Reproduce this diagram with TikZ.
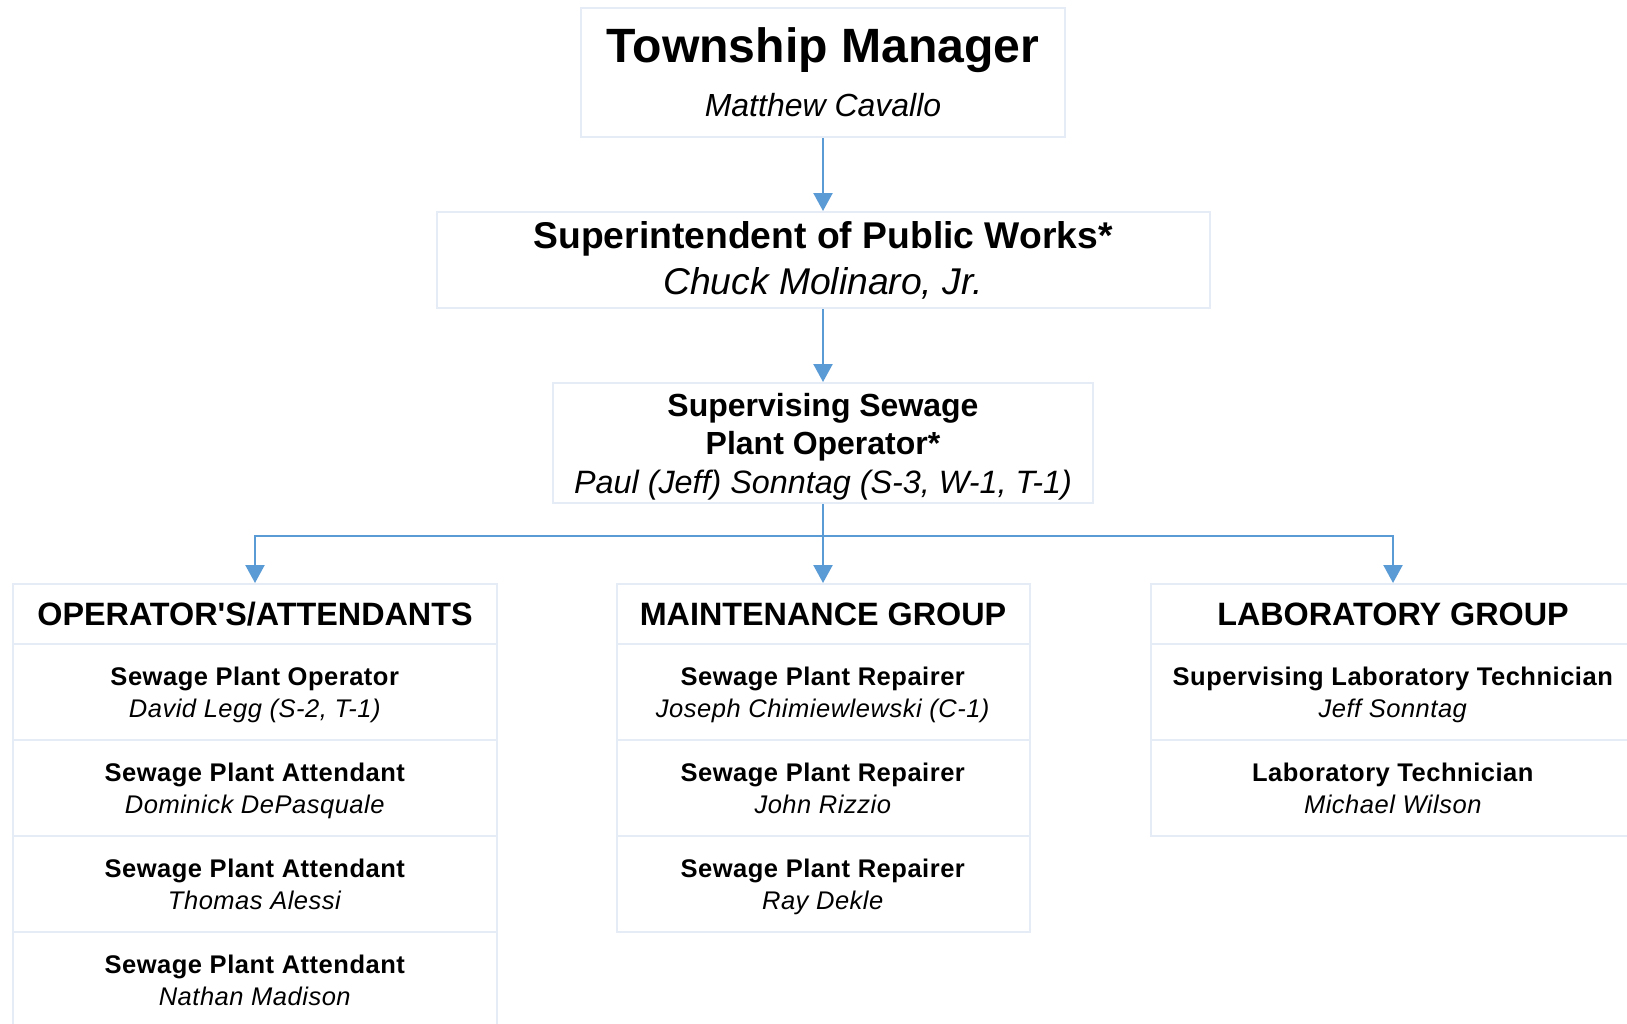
\documentclass[tikz,border=0pt]{standalone}
\usepackage{fontspec}
\setmainfont{Liberation Sans}
\usetikzlibrary{arrows.meta}

\definecolor{boxline}{HTML}{E6ECF6}
\definecolor{linkblue}{HTML}{5B9BD5}

\begin{document}
\begin{tikzpicture}[x=0.1mm, y=-0.1mm,
    box/.style={draw=boxline, line width=0.57pt, inner sep=0pt, align=center},
    topbox/.style={box, minimum width=48.4mm, minimum height=12.9mm, font=\fontsize{9.1}{15.3}\selectfont},
    supbox/.style={box, minimum width=77.3mm, minimum height=9.6mm, font=\fontsize{10.6}{13.1}\selectfont},
    sspobox/.style={box, minimum width=54mm, minimum height=12mm, text depth=0pt, font=\fontsize{9.1}{10.95}\selectfont},
    headbox/.style={box, minimum height=6mm, text depth=0pt, font=\fontsize{9.2}{11}\selectfont\bfseries},
    rowbox/.style={box, minimum height=9.6mm, text depth=0pt, font=\fontsize{7.26}{9.1}\selectfont\addfontfeature{LetterSpace=2}},
    link/.style={draw=linkblue, line width=0.65pt},
    arrow/.style={link, -{Triangle[width=1.9mm, length=1.8mm]}}]

\useasboundingbox (0,0) rectangle (1627,1023);

%%%%%%%%%%%%%%%%%%%%%% TOP OF THE CHART %%%%%%%%%%%%%%%%%%%%%%

% Manager
\node[topbox] (tm) at (823,72.5) {{\fontsize{13.7}{15.3}\selectfont\bfseries Township Manager}\\ \itshape Matthew Cavallo};

% Superintendent
\node[supbox] (sup) at (823,260) {\textbf{Superintendent of Public Works*}\\ \textit{Chuck Molinaro, Jr.}};

% Supervising operator
\node[sspobox] (sspo) at (823,443) {\textbf{Supervising Sewage}\\ \textbf{Plant Operator*}\\ {\fontsize{9.2}{10.95}\selectfont\itshape Paul (Jeff) Sonntag (S-3, W-1, T-1)}};

\coordinate (bus) at (823,536);

%%%%%%%%%%%%%%%%%%%%%% GROUPS %%%%%%%%%%%%%%%%%%%%%%

% Operators and attendants
\node[headbox, minimum width=48.4mm] (opH) at (255,614) {OPERATOR\textquotesingle S/ATTENDANTS};
\node[rowbox, minimum width=48.4mm] (op1) at (255,692) {\textbf{Sewage Plant Operator}\\ \textit{David Legg (S-2, T-1)}};
\node[rowbox, minimum width=48.4mm] (op2) at (255,788) {\textbf{Sewage Plant Attendant}\\ \textit{Dominick DePasquale}};
\node[rowbox, minimum width=48.4mm] (op3) at (255,884) {\textbf{Sewage Plant Attendant}\\ \textit{Thomas Alessi}};
\node[rowbox, minimum width=48.4mm] (op4) at (255,980) {\textbf{Sewage Plant Attendant}\\ \textit{Nathan Madison}};

% Maintenance
\node[headbox, minimum width=41.3mm] (mtH) at (823,614) {MAINTENANCE GROUP};
\node[rowbox, minimum width=41.3mm] (mt1) at (823,692) {\textbf{Sewage Plant Repairer}\\ \textit{Joseph Chimiewlewski (C-1)}};
\node[rowbox, minimum width=41.3mm] (mt2) at (823,788) {\textbf{Sewage Plant Repairer}\\ \textit{John Rizzio}};
\node[rowbox, minimum width=41.3mm] (mt3) at (823,884) {\textbf{Sewage Plant Repairer}\\ \textit{Ray Dekle}};

% Laboratory
\node[headbox, minimum width=48.4mm] (labH) at (1393,614) {LABORATORY GROUP};
\node[rowbox, minimum width=48.4mm] (lab1) at (1393,692) {\textbf{Supervising Laboratory Technician}\\ \textit{Jeff Sonntag}};
\node[rowbox, minimum width=48.4mm] (lab2) at (1393,788) {\textbf{Laboratory Technician}\\ \textit{Michael Wilson}};

%%%%%%%%%%%%%%%%%%%%%% CONNECTORS %%%%%%%%%%%%%%%%%%%%%%

\draw[arrow] (tm) -- (sup);
\draw[arrow] (sup) -- (sspo);
\draw[link] (sspo) -- (bus);
\draw[arrow] (bus) -| (opH);
\draw[arrow] (bus) -- (mtH);
\draw[arrow] (bus) -| (labH);

\end{tikzpicture}
\end{document}
